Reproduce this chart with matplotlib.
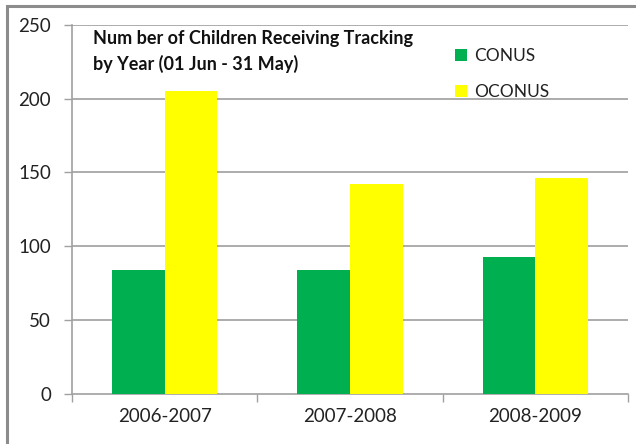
import matplotlib
matplotlib.use("Agg")
import matplotlib.pyplot as plt
import numpy as np
from matplotlib.patches import Rectangle

categories = ["2006-2007", "2007-2008", "2008-2009"]
conus = [84, 84, 93]
oconus = [205, 142, 146]
yticks = [0, 50, 100, 150, 200, 250]

plt.rcParams['font.family'] = ['Lato', 'DejaVu Sans']

W, H = 636, 444
fig = plt.figure(figsize=(W/100, H/100), dpi=100)
ax = fig.add_axes([72/W, 1-393.7/H, (628-72)/W, (393.7-25)/H])

# outer frame
fig.patches.append(Rectangle((7/W, -0.1), 1.2, 1-6/H+0.1, transform=fig.transFigure,
                             fill=False, edgecolor='#8c8c8c', linewidth=2.2))

x = np.arange(len(categories))
bw = 0.285
ax.bar(x - bw/2, conus, width=bw, color='#00b050', label='CONUS', zorder=3)
ax.bar(x + bw/2, oconus, width=bw, color='#ffff00', label='OCONUS', zorder=3)

ax.set_xlim(-0.5, len(categories) - 0.5)
ax.set_ylim(0, 250)
ax.set_yticks(yticks)
ax.set_yticklabels([str(v) for v in yticks], fontsize=13.5, color='#222222')
ax.set_xticks(x)
ax.set_xticklabels(categories, fontsize=13.5, color='#222222')
ax.set_xticks(np.arange(-0.5, len(categories)), minor=True)
ax.tick_params(axis='x', which='major', length=0, pad=10)
ax.tick_params(axis='x', which='minor', length=6, color='#a0a0a0', width=1)
ax.tick_params(axis='y', length=6, color='#a0a0a0', width=1, pad=9)

for y in yticks[1:]:
    ax.axhline(y, color='#a6a6a6', linewidth=1.3, zorder=1)

for s in ['top', 'right']:
    ax.spines[s].set_visible(False)
for s in ['left', 'bottom']:
    ax.spines[s].set_color('#a0a0a0')
    ax.spines[s].set_linewidth(1.2)

ax.text(93/W, 1-30/H, "Num ber of Children Receiving Tracking\nby Year (01 Jun - 31 May)",
        transform=fig.transFigure, fontsize=13, fontweight='bold', color='#111111',
        va='top', ha='left', linespacing=1.5)

leg = ax.legend(loc='upper left', bbox_to_anchor=((448-72)/(628-72), 1-(41-25)/(393.7-25)),
                frameon=False, fontsize=12.5, handlelength=0.7, handleheight=0.7,
                handletextpad=0.4, labelspacing=1.15, borderaxespad=0)
for t in leg.get_texts():
    t.set_color('#222222')

fig.savefig("out.png", dpi=100, facecolor='white')
